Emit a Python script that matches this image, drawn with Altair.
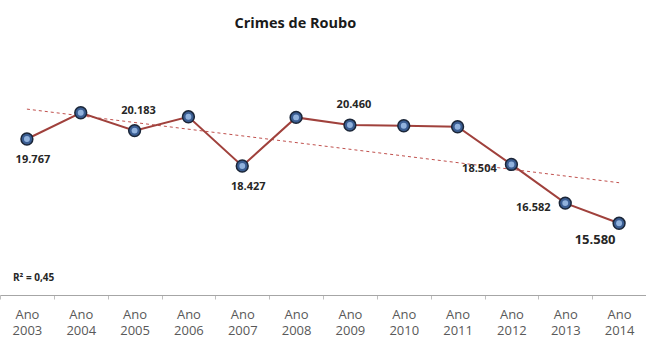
import altair as alt
import pandas as pd

years = [2003, 2004, 2005, 2006, 2007, 2008, 2009, 2010, 2011, 2012, 2013, 2014]
values = [19.767, 21.07, 20.183, 20.87, 18.427, 20.84, 20.460, 20.425, 20.375, 18.504, 16.582, 15.580]
labels = ["Ano %d" % y for y in years]
title_text = "Crimes de Roubo"

below_years = [2003, 2007]
above_years = [2005, 2009]
left_years = [2012, 2013]
last_year = [2014]

df = pd.DataFrame({"year": years, "value": values, "label": labels})

FONT = "Open Sans"
xenc = alt.X(
    "label:N",
    sort=labels,
    scale=alt.Scale(paddingInner=0, paddingOuter=0),
    axis=alt.Axis(
        title=None,
        labelAngle=0,
        labelExpr="split(datum.label, ' ')",
        labelLineHeight=16.5,
        labelFont=FONT,
        labelFontSize=13,
        labelColor="#595959",
        labelPadding=9,
        tickBand="extent",
        tickSize=4,
        tickColor="#bfbfbf",
        domainColor="#a6a6a6",
        grid=False,
    ),
)
yenc = alt.Y(
    "value:Q",
    scale=alt.Scale(domain=[12.018, 24.436], nice=False, zero=False),
    axis=None,
)

base = alt.Chart(df)

trend = (
    base.transform_regression("year", "value")
    .transform_calculate(label="'Ano ' + datum.year")
    .mark_line(color="#c0504d", strokeDash=[3, 3], strokeWidth=1)
    .encode(x=xenc, y=yenc)
)

line = base.mark_line(color="#a0413c", strokeWidth=2).encode(x=xenc, y=yenc)

pts_outer = base.mark_circle(
    size=140, color="#3a5d92", opacity=1, stroke="#1b2638", strokeWidth=1.5
).encode(x=xenc, y=yenc)
pts_inner = base.mark_circle(size=35, color="#9bbbe6", opacity=0.9).encode(x=xenc, y=yenc)


def lbl(yrs, dx, dy, size=11):
    return (
        base.transform_filter(alt.FieldOneOfPredicate(field="year", oneOf=yrs))
        .mark_text(font=FONT, fontSize=size, fontWeight="bold", color="#262626",
                   dx=dx, dy=dy, baseline="middle", align="center")
        .encode(x=xenc, y=yenc, text=alt.Text("value:Q", format=".3f"))
    )


labels_below = lbl(below_years, 6, 21)
labels_above = lbl(above_years, 4, -20)
labels_left = lbl(left_years, -32, 5)
labels_last = lbl(last_year, -24, 17, size=13)

r2 = (
    base.transform_regression("year", "value", params=True)
    .transform_calculate(txt="'R² = ' + replace(format(datum.rSquared, '.2f'), '.', ',')")
    .mark_text(font=FONT, fontSize=10, fontWeight="bold", color="#262626", align="left", baseline="middle")
    .encode(x=alt.value(13), y=alt.value(233), text="txt:N")
)

chart = (
    alt.layer(trend, line, pts_outer, pts_inner, labels_below, labels_above, labels_left, labels_last, r2)
    .properties(
        width=646,
        height=250,
        padding={"top": 45, "bottom": 43, "left": 0, "right": 0},
        autosize=alt.AutoSizeParams(type="none"),
        title=alt.TitleParams(title_text, anchor="start", dx=235, offset=14,
                              font=FONT, fontSize=14.5, fontWeight="bold", color="#1a1a1a"),
    )
    .configure(background="white", view=alt.ViewConfig(stroke=None))
)

chart.save("out.html", embed_options={"renderer": "svg", "actions": False})
